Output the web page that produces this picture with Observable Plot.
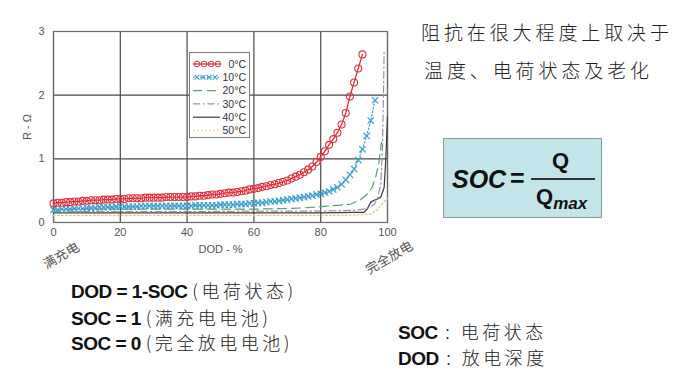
<!DOCTYPE html>
<html><head><meta charset="utf-8">
<script src="https://cdn.jsdelivr.net/npm/d3@7"></script>
<script src="https://cdn.jsdelivr.net/npm/@observablehq/plot@0.6"></script>
<style>
body{margin:0;background:#fff;}
#wrap{position:relative;width:693px;height:380px;overflow:hidden;background:#fff;font-family:"Liberation Sans",Arial,sans-serif;}
.abs{position:absolute;white-space:nowrap;line-height:1;}
.cn{font-family:"Noto Sans CJK SC",sans-serif;font-weight:300;color:#222;}
.b{font-weight:bold;color:#111;}
#plot{position:absolute;left:0;top:0;}
</style></head><body><div id="wrap"><div id="plot"></div></div>
<script>
// ---- data ----
const xTicks = [0, 20, 40, 60, 80, 100];
const yTicks = [0, 1, 2, 3];
const seriesNames = ["0°C", "10°C", "20°C", "30°C", "40°C", "50°C"];

const dod_0C = [0,1.25,2.5,3.75,5,6.25,7.5,8.75,10,11.25,12.5,13.75,15,16.25,17.5,18.75,20,21.25,22.5,23.75,25,26.25,27.5,28.75,30,31.25,32.5,33.75,35,36.25,37.5,38.75,40,41.25,42.5,43.75,45,46.25,47.5,48.75,50,51.25,52.5,53.75,55,56.25,57.5,58.75,60,61.25,62.5,63.75,65,66.25,67.5,68.75,70,71.25,72.5,73.75,75,76.25,77.5,78.75,80,81.25,82.5,83.75,85,86.25,87.5,88.75,90,91.25,92.5];
const r_0C = [0.30,0.31,0.31,0.32,0.32,0.33,0.33,0.34,0.34,0.35,
  0.35,0.35,0.36,0.36,0.36,0.37,0.37,0.37,0.38,0.38,
  0.38,0.38,0.39,0.39,0.39,0.39,0.39,0.40,0.40,0.40,
  0.40,0.40,0.40,0.41,0.41,0.42,0.42,0.43,0.44,0.44,
  0.45,0.46,0.47,0.47,0.48,0.49,0.50,0.52,0.53,0.54,
  0.56,0.57,0.59,0.60,0.62,0.64,0.66,0.69,0.72,0.75,
  0.79,0.83,0.88,0.95,1.03,1.12,1.22,1.31,1.41,1.54,
  1.72,1.98,2.20,2.42,2.64];

const dod_10C = [0,1.25,2.5,3.75,5,6.25,7.5,8.75,10,11.25,12.5,13.75,15,16.25,17.5,18.75,20,21.25,22.5,23.75,25,26.25,27.5,28.75,30,31.25,32.5,33.75,35,36.25,37.5,38.75,40,41.25,42.5,43.75,45,46.25,47.5,48.75,50,51.25,52.5,53.75,55,56.25,57.5,58.75,60,61.25,62.5,63.75,65,66.25,67.5,68.75,70,71.25,72.5,73.75,75,76.25,77.5,78.75,80,81.25,82.5,83.75,85,86.25,87.5,88.75,90,91.25,92.5,93.75,95,96.25];
const r_10C = [0.20,0.20,0.21,0.21,0.21,0.22,0.22,0.22,0.23,0.23,
  0.23,0.24,0.24,0.24,0.24,0.25,0.25,0.25,0.25,0.25,
  0.25,0.26,0.26,0.26,0.26,0.26,0.26,0.26,0.26,0.26,
  0.26,0.26,0.26,0.26,0.27,0.27,0.27,0.27,0.27,0.27,
  0.28,0.28,0.28,0.28,0.29,0.29,0.29,0.30,0.30,0.31,
  0.31,0.32,0.33,0.33,0.34,0.35,0.36,0.37,0.38,0.39,
  0.40,0.41,0.42,0.44,0.45,0.47,0.49,0.52,0.55,0.60,
  0.67,0.75,0.84,0.98,1.15,1.36,1.60,1.92];

const dod_20C = [0,10,20,30,40,50,60,70,75,80,85,89,92,94,95.4,96.5,97.4,98.2];
const r_20C   = [0.20,0.21,0.21,0.21,0.21,0.21,0.21,0.22,0.23,0.25,0.27,0.29,0.36,0.45,0.55,0.72,0.93,1.26];

const dod_30C = [0,20,40,60,80,90,94,96,97,98,98.5,98.8,99];
const r_30C   = [0.17,0.17,0.17,0.18,0.18,0.19,0.22,0.28,0.38,0.60,1.20,2.00,2.72];

const dod_40C = [0,20,40,60,80,90,93,94,95,96,97,98,99,99.5,100];
const r_40C   = [0.15,0.15,0.15,0.15,0.15,0.16,0.16,0.22,0.32,0.35,0.37,0.40,0.55,1.00,1.66];

const dod_50C = [0,20,40,60,80,90,95,97,98,99,100];
const r_50C   = [0.11,0.11,0.11,0.11,0.11,0.12,0.13,0.20,0.27,0.33,0.38];

const annotDod = [0, 100];
const annotText = ["满充电", "完全放电"];

// ---- styles ----
const styles = {
  "0°C":  {color:"#e0303c", dash:null, width:1.3},
  "10°C": {color:"#3a9fd0", dash:"1.5,2", width:1.2},
  "20°C": {color:"#4aa860", dash:"9,5", width:1.2},
  "30°C": {color:"#a08ca8", dash:"7,3,1.5,3", width:1.2},
  "40°C": {color:"#3a3a3a", dash:null, width:1.2},
  "50°C": {color:"#e2c97e", dash:"1.5,2.5", width:1.4}
};
const seriesData = {
  "0°C":[dod_0C,r_0C], "10°C":[dod_10C,r_10C], "20°C":[dod_20C,r_20C],
  "30°C":[dod_30C,r_30C], "40°C":[dod_40C,r_40C], "50°C":[dod_50C,r_50C]
};
const rowsOf = name => seriesData[name][0].map((d,i)=>({name, dod:d, r:seriesData[name][1][i]}));
const annots = annotDod.map((d,i)=>({dod:d, label:annotText[i]}));

const lineMarks = seriesNames.slice().reverse().map(n => Plot.line(rowsOf(n), {
  x:"dod", y:"r", stroke:styles[n].color, strokeWidth:styles[n].width,
  strokeDasharray:styles[n].dash || undefined
}));

const annoStyle = {x:"dod", frameAnchor:"bottom", text:"label", rotate:-30, fontSize:13, fill:"#555", fontFamily:"Noto Sans CJK SC"};

const chart = Plot.plot({
  width:420, height:280,
  marginLeft:53, marginRight:33, marginTop:31, marginBottom:58,
  style:{fontFamily:"'Liberation Sans', Arial, sans-serif", fontSize:"11px", color:"#555", background:"transparent", overflow:"visible"},
  x:{domain:[0,100], ticks:xTicks, tickSize:0, tickPadding:6, tickFormat:d=>String(d), label:"DOD - %", labelAnchor:"center", labelOffset:30, labelArrow:"none"},
  y:{domain:[0,3], ticks:yTicks, tickSize:0, tickPadding:9, tickFormat:d=>String(d), label:"R - Ω", labelAnchor:"center", labelOffset:30, labelArrow:"none"},
  marks:[
    Plot.gridX(xTicks, {stroke:"#4a4a4a", strokeOpacity:1, strokeWidth:1.2}),
    Plot.gridY(yTicks, {stroke:"#4a4a4a", strokeOpacity:1, strokeWidth:1.2}),
    Plot.frame({stroke:"#6a6a6a", strokeWidth:1.2}),
    ...lineMarks,
    Plot.dot(rowsOf("10°C"), {x:"dod", y:"r", symbol:"times", r:3, stroke:styles["10°C"].color, strokeWidth:1.2}),
    Plot.dot(rowsOf("0°C"), {x:"dod", y:"r", symbol:"circle", r:3.5, stroke:styles["0°C"].color, fill:"none", strokeWidth:1.1}),
    Plot.text(annots.slice(0,1), {...annoStyle, dx:10, dy:37}),
    Plot.text(annots.slice(1), {...annoStyle, dx:4, dy:39})
  ]
});
document.getElementById("plot").appendChild(chart);

const wrap = document.getElementById("wrap");
function add(html, left, top, cls, style){
  const d = document.createElement("div");
  d.className = "abs " + (cls||"");
  d.style.left = left+"px"; d.style.top = top+"px";
  if (style) d.style.cssText += style;
  d.innerHTML = html; wrap.appendChild(d); return d;
}

// ---- legend ----
const lg = d3.select(wrap).append("svg")
  .attr("width", 62).attr("height", 87)
  .style("position","absolute").style("left","189px").style("top","52px");
lg.append("rect").attr("x",0.5).attr("y",0.5).attr("width",60).attr("height",85)
  .attr("fill","#fff").attr("stroke","#7a7a7a");
seriesNames.forEach((n,i)=>{
  const y = 12 + i*13.3;
  const s = styles[n];
  const g = lg.append("g");
  g.append("line").attr("x1",4).attr("x2",31).attr("y1",y).attr("y2",y)
    .attr("stroke",s.color).attr("stroke-width",s.width)
    .attr("stroke-dasharray", s.dash || null);
  if (n==="0°C") [8,15,22,29].forEach(x=>g.append("circle").attr("cx",x).attr("cy",y).attr("r",2.8).attr("fill","none").attr("stroke",s.color).attr("stroke-width",1));
  if (n==="10°C") [8,14,20,26].forEach(x=>{
    g.append("path").attr("d",`M${x-2.4},${y-2.4}L${x+2.4},${y+2.4}M${x-2.4},${y+2.4}L${x+2.4},${y-2.4}`).attr("stroke",s.color).attr("stroke-width",1.1);
  });
  g.append("text").attr("x",57).attr("y",y).attr("dy","0.35em").attr("text-anchor","end")
    .attr("font-family","'Liberation Sans', Arial, sans-serif").attr("font-size",10.5).attr("fill","#333").text(n);
});

// ---- right text ----
add("阻抗在很大程度上取决于", 421, 22, "cn", "font-size:19px;letter-spacing:3.9px;");
add("温度、电荷状态及老化", 424, 60, "cn", "font-size:19px;letter-spacing:3.9px;");

// ---- formula box ----
const box = add("", 443, 138, "", "width:157px;height:78px;background:#c3e4e8;border:1px solid #8a9a9a;");
box.innerHTML = `
 <div class="abs b" style="left:8px;top:28px;font-size:25px;font-style:italic;">SOC</div>
 <div class="abs b" style="left:66px;top:27px;font-size:25px;">=</div>
 <div class="abs b" style="left:108px;top:11px;font-size:22px;">Q</div>
 <div class="abs" style="left:87px;top:39px;width:64px;height:2px;background:#333;"></div>
 <div class="abs b" style="left:92px;top:47px;font-size:22px;">Q<span style="font-style:italic;font-size:17px;position:relative;top:5px;">max</span></div>`;

// ---- bottom text ----
const bl = "font-size:19px;letter-spacing:-0.5px;";
add(`<span class="b">DOD = 1-SOC </span><span class="cn" style="letter-spacing:3.5px;font-size:18px;">(电荷状态)</span>`, 71, 281, "", bl);
add(`<span class="b">SOC = 1 </span><span class="cn" style="letter-spacing:3.5px;font-size:18px;">(满充电电池)</span>`, 71, 308, "", bl);
add(`<span class="b">SOC = 0 </span><span class="cn" style="letter-spacing:3.5px;font-size:18px;">(完全放电电池)</span>`, 71, 333, "", bl);
add(`<span class="b">SOC</span><span class="cn" style="letter-spacing:3.5px;font-size:18px;"> : 电荷状态</span>`, 398, 322, "", bl);
add(`<span class="b">DOD</span><span class="cn" style="letter-spacing:3.5px;font-size:18px;"> : 放电深度</span>`, 398, 348, "", bl);
</script></body></html>
